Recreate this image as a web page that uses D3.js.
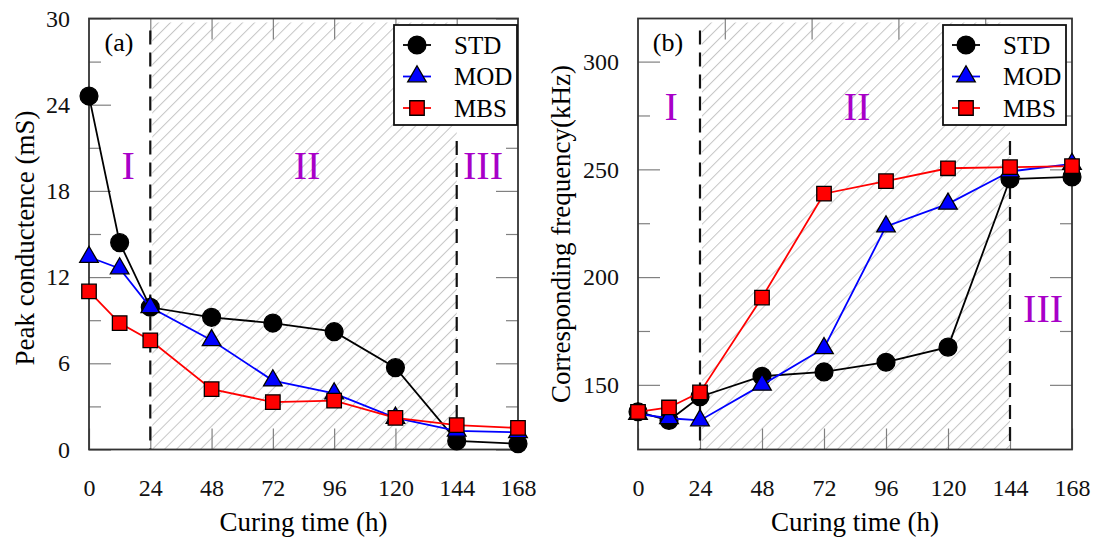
<!DOCTYPE html>
<html>
<head>
<meta charset="utf-8">
<script src="https://cdn.jsdelivr.net/npm/d3@7"></script>
<style>
  body { margin: 0; background: #fff; }
  svg { display: block; }
  svg text { font-family: "Liberation Serif", "Times New Roman", serif; }
</style>
</head>
<body>
<div id="chart"></div>
<script>
// curing times (h)
const hours = [0, 12, 24, 48, 72, 96, 120, 144, 168];
const timeTicks = [0, 24, 48, 72, 96, 120, 144, 168];

// (a) peak conductance, mS
const condSTD = [24.6, 14.4, 9.9, 9.2, 8.8, 8.2, 5.7, 0.6, 0.4];
const condMOD = [13.4, 12.6, 9.9, 7.6, 4.8, 3.9, 2.2, 1.3, 1.2];
const condMBS = [11.0, 8.8, 7.6, 4.2, 3.3, 3.4, 2.2, 1.7, 1.5];
const condTicks = [0, 6, 12, 18, 24, 30];

// (b) corresponding frequency, kHz
const freqSTD = [137.5, 133.5, 144.5, 154, 156, 160.5, 167.5, 245.5, 246.5];
const freqMOD = [136.5, 134.5, 133.5, 150, 167, 223.5, 234, 249, 252.5];
const freqMBS = [137.5, 139.5, 146.5, 190.5, 238.7, 244.5, 250.5, 251, 251.5];
const freqTicks = [150, 200, 250, 300];

const seriesNames = ['STD', 'MOD', 'MBS'];
const stageNames = ['I', 'II', 'III'];
const stageBounds = [24, 144];

const colors = { STD: '#000000', MOD: '#0000ff', MBS: '#ff0000' };
const symbols = { STD: d3.symbolCircle, MOD: d3.symbolTriangle, MBS: d3.symbolSquare };
const symSize = { STD: 250, MOD: 150, MBS: 210 };
const magenta = '#a800c8';
const tickColor = '#808080';
const serif = '"Liberation Serif", "Times New Roman", serif';

const svg = d3.select('#chart').append('svg')
  .attr('width', 1097)
  .attr('height', 542);

svg.append('defs').append('pattern')
  .attr('id', 'hatch')
  .attr('patternUnits', 'userSpaceOnUse')
  .attr('width', 8.5)
  .attr('height', 8.5)
  .attr('patternTransform', 'rotate(45)')
  .append('line')
  .attr('x1', 0).attr('y1', 0).attr('x2', 0).attr('y2', 8.5)
  .attr('stroke', '#c6c6c6')
  .attr('stroke-width', 2);

function drawPanel(opt) {
  const x = d3.scaleLinear().domain([0, 168]).range([opt.left, opt.right]);
  const y = d3.scaleLinear().domain(opt.yDomain).range([449.5, 18.5]);
  const g = svg.append('g');
  const top = y.range()[1], bottom = y.range()[0];

  // hatched stage II
  g.append('rect')
    .attr('x', x(stageBounds[0]) + 2)
    .attr('y', top + 4)
    .attr('width', x(stageBounds[1]) - x(stageBounds[0]) - 2)
    .attr('height', bottom - top - 4)
    .attr('fill', 'url(#hatch)');

  // ticks
  const tickStyle = sel => {
    sel.attr('font-family', serif).attr('font-size', 24);
    sel.select('.domain').remove();
    sel.selectAll('line').attr('stroke', tickColor).attr('stroke-width', 1.2);
    sel.selectAll('text').attr('fill', '#111');
  };
  g.append('g').attr('transform', `translate(0,${bottom})`)
    .call(d3.axisBottom(x).tickValues(timeTicks).tickSize(-21).tickPadding(29))
    .call(tickStyle);
  g.append('g').attr('transform', `translate(0,${top})`)
    .call(d3.axisTop(x).tickValues(opt.topTicks).tickSize(-21).tickFormat(''))
    .call(tickStyle);
  g.append('g').attr('transform', `translate(${opt.left},0)`)
    .call(d3.axisLeft(y).tickValues(opt.yTicks).tickSize(-22).tickPadding(19))
    .call(tickStyle);
  g.append('g').attr('transform', `translate(${opt.left},0)`)
    .call(d3.axisLeft(y).tickValues(opt.yMinor).tickSize(-12).tickFormat(''))
    .call(tickStyle);
  g.append('g').attr('transform', `translate(${opt.right},0)`)
    .call(d3.axisRight(y).tickValues(opt.yTicks).tickSize(-22).tickFormat(''))
    .call(tickStyle);
  g.append('g').attr('transform', `translate(${opt.right},0)`)
    .call(d3.axisRight(y).tickValues(opt.yMinor).tickSize(-12).tickFormat(''))
    .call(tickStyle);

  // stage boundaries
  g.append('line')
    .attr('x1', x(stageBounds[0])).attr('x2', x(stageBounds[0]))
    .attr('y1', top + 12).attr('y2', bottom)
    .attr('stroke', '#111').attr('stroke-width', 2.2)
    .attr('stroke-dasharray', '14,8');
  g.append('line')
    .attr('x1', x(stageBounds[1])).attr('x2', x(stageBounds[1]))
    .attr('y1', 141).attr('y2', bottom)
    .attr('stroke', '#111').attr('stroke-width', 2.2)
    .attr('stroke-dasharray', '14,8');

  // frame
  g.append('rect')
    .attr('x', opt.left).attr('y', top)
    .attr('width', opt.right - opt.left).attr('height', bottom - top)
    .attr('fill', 'none').attr('stroke', '#333').attr('stroke-width', 1.8);

  // series
  const line = d3.line().x(d => x(d[0])).y(d => y(d[1]));
  seriesNames.forEach(name => {
    const pts = hours.map((h, i) => [h, opt.values[name][i]]);
    g.append('path').datum(pts)
      .attr('d', line)
      .attr('fill', 'none')
      .attr('stroke', colors[name])
      .attr('stroke-width', 1.8);
    g.selectAll(null).data(pts).enter().append('path')
      .attr('d', d3.symbol().type(symbols[name]).size(symSize[name]))
      .attr('transform', d => `translate(${x(d[0])},${y(d[1])})`)
      .attr('fill', colors[name])
      .attr('stroke', '#000')
      .attr('stroke-width', 1.3);
  });

  // stage labels
  g.selectAll('.stage').data(stageNames).enter().append('text')
    .attr('x', (d, i) => x(opt.stagePos[i][0]))
    .attr('y', (d, i) => y(opt.stagePos[i][1]))
    .attr('text-anchor', 'middle')
    .attr('fill', magenta)
    .style('font-size', '40px')
    .text(d => d);

  // panel tag
  g.append('text')
    .attr('x', opt.left + 30).attr('y', 51)
    .attr('text-anchor', 'middle')
    .style('font-size', '26px')
    .text(opt.tag);

  // legend
  const lg = g.append('g').attr('transform', `translate(${opt.left + 305},25)`);
  lg.append('rect')
    .attr('width', 123).attr('height', 100)
    .attr('fill', '#fff').attr('stroke', '#111').attr('stroke-width', 1.8);
  seriesNames.forEach((name, i) => {
    const ry = 20 + i * 31.5;
    lg.append('line')
      .attr('x1', 9).attr('x2', 37).attr('y1', ry).attr('y2', ry)
      .attr('stroke', colors[name]).attr('stroke-width', 1.8);
    lg.append('path')
      .attr('d', d3.symbol().type(symbols[name]).size(symSize[name])())
      .attr('transform', `translate(23,${ry})`)
      .attr('fill', colors[name]).attr('stroke', '#000').attr('stroke-width', 1.3);
    lg.append('text')
      .attr('x', 60).attr('y', ry + 8.5)
      .style('font-size', '25px')
      .text(name);
  });

  // axis titles
  g.append('text')
    .attr('x', (opt.left + opt.right) / 2).attr('y', 531)
    .attr('text-anchor', 'middle')
    .style('font-size', '27px')
    .text('Curing time (h)');
  g.append('text')
    .attr('transform', `translate(${opt.titleX},${opt.titleY}) rotate(-90)`)
    .attr('text-anchor', 'middle')
    .style('font-size', '27px')
    .text(opt.yTitle);
}

drawPanel({
  left: 89, right: 518,
  yDomain: [0, 30],
  yTicks: condTicks,
  yMinor: [3, 9, 15, 21, 27],
  topTicks: timeTicks.slice(1, -1),
  values: { STD: condSTD, MOD: condMOD, MBS: condMBS },
  stagePos: [[15.3, 18.8], [85.4, 18.8], [154.3, 18.8]],
  tag: '(a)',
  yTitle: 'Peak conductence (mS)',
  titleX: 34, titleY: 238
});

drawPanel({
  left: 638, right: 1072,
  yDomain: [120, 320],
  yTicks: freqTicks,
  yMinor: [175, 225, 275],
  topTicks: [1, 2, 3, 4].map(k => 168 * k / 5),
  values: { STD: freqSTD, MOD: freqMOD, MBS: freqMBS },
  stagePos: [[12.8, 273], [84.8, 272.7], [156.8, 179.2]],
  tag: '(b)',
  yTitle: 'Corresponding frequency(kHz)',
  titleX: 570, titleY: 234
});
</script>
</body>
</html>
